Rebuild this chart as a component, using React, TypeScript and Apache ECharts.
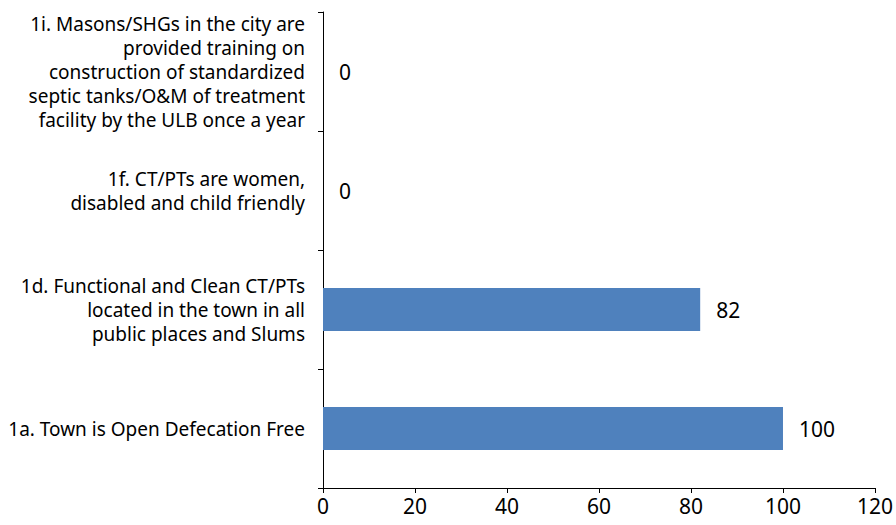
import React, { useEffect, useRef } from "react";
import * as echarts from "echarts";

const categories = [
  "1a. Town is Open Defecation Free",
  "1d. Functional and Clean CT/PTs\nlocated in the town in all\npublic places and Slums",
  "1f. CT/PTs are women,\ndisabled and child friendly",
  "1i. Masons/SHGs in the city are\nprovided training on\nconstruction of standardized\nseptic tanks/O&M of treatment\nfacility by the ULB once a year",
];
const values = [100, 82, 0, 0];
const xTicks = { min: 0, max: 120, interval: 20 };

export default function App() {
  const ref = useRef<HTMLDivElement>(null);
  useEffect(() => {
    if (!ref.current) return;
    const chart = echarts.init(ref.current, null, { renderer: "svg" });
    const font = "Noto Sans";
    chart.setOption({
      animation: false,
      grid: { left: 323, right: 16, top: 12, bottom: 37, containLabel: false },
      xAxis: {
        type: "value",
        min: xTicks.min,
        max: xTicks.max,
        interval: xTicks.interval,
        axisLine: { show: true, lineStyle: { color: "#000", width: 1 } },
        axisTick: { show: true, length: 5, lineStyle: { color: "#000" } },
        splitLine: { show: false },
        axisLabel: { color: "#000", fontSize: 21, fontFamily: font, margin: 7 },
      },
      yAxis: {
        type: "category",
        data: categories,
        axisLine: { show: true, lineStyle: { color: "#000", width: 1 } },
        axisTick: { show: true, length: 5, lineStyle: { color: "#000" } },
        axisLabel: {
          color: "#000",
          fontSize: 19,
          fontFamily: font,
          lineHeight: 24,
          margin: 18,
          align: "right",
        },
      },
      series: [
        {
          type: "bar",
          data: values,
          barWidth: "36%",
          itemStyle: { color: "#4F81BD" },
          label: {
            show: true,
            position: "right",
            distance: 16,
            color: "#000",
            fontSize: 21,
            fontFamily: font,
          },
        },
      ],
    });
    return () => chart.dispose();
  }, []);
  return <div ref={ref} style={{ width: 896, height: 525, position: "absolute", left: 0, top: 0 }} />;
}
